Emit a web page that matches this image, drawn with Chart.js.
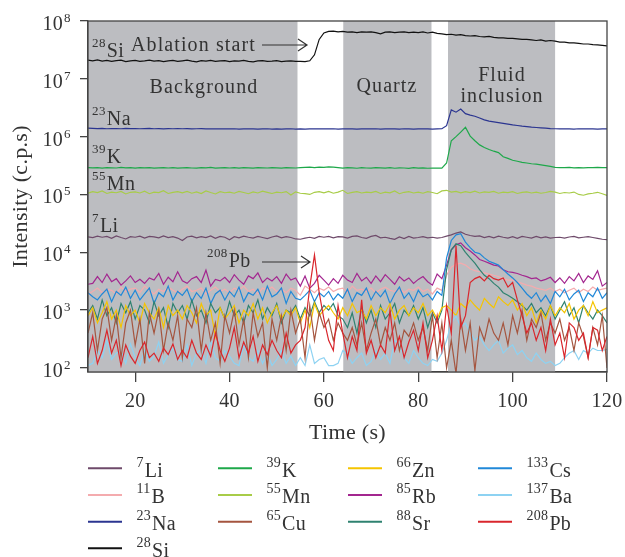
<!DOCTYPE html>
<html><head><meta charset="utf-8">
<script src="https://cdn.jsdelivr.net/npm/chart.js@4.4.1/dist/chart.umd.min.js"></script>
<style>html,body{margin:0;padding:0;background:#fff}canvas{display:block}</style>
</head><body>
<canvas id="c" width="625" height="557" style="width:625px;height:557px"></canvas>
<script>
// ---- time grid (s) ----
const timeS = Array.from({length: 111}, (_, i) => 10 + i);

// ---- tick labels ----
const xTickValues = [20, 40, 60, 80, 100, 120];
const yTickValues = [1e2, 1e3, 1e4, 1e5, 1e6, 1e7, 1e8];
const yTickExponents = ['2', '3', '4', '5', '6', '7', '8'];

// ---- shaded regions ----
const bandNames = ['Background', 'Quartz', 'Fluid inclusion'];
const bandStart = [10, 64.1, 86.3];
const bandEnd = [54.4, 82.8, 109.0];

// ---- series (c.p.s), one value per second from 10 s to 120 s ----
const liData = [
 18500,18000,19000,18200,18800,17500,19200,18000,17000,18600,
 18200,19000,17600,18800,18400,17800,19200,18000,18600,17600,
 16000,18400,19000,17800,18600,18000,19200,17400,18800,18200,
 16500,18600,17800,19000,18200,17600,18800,18000,17200,18400,
 19200,17800,18600,18000,17000,16800,17600,18200,17400,18800,
 18200,18800,17800,18600,18400,17600,18800,19200,18000,17400,
 18800,19600,17800,18200,17400,16800,18400,17200,18800,17600,
 18000,18600,17800,18200,17600,18000,19000,20000,21500,22500,
 20500,19500,18800,19200,18000,18800,17800,19000,18200,17600,
 18600,17400,18800,18200,17600,18800,17800,18400,17600,18000,
 18200,17600,18400,18800,17800,18200,18600,18000,17400,16800,
 16500];
const bData = [
 1900,2100,2400,2000,2300,2200,1900,2500,2100,2300,
 2400,2000,2600,2200,1900,2300,2100,2500,2200,2000,
 2300,2600,2100,2200,2400,1900,2200,2500,2100,2300,
 2000,2400,2200,2600,2100,2300,1900,2400,2200,2500,
 2100,2300,2000,2400,2200,1800,2600,2300,2000,2400,
 2200,2500,2100,2300,2400,2000,2600,2200,2300,2100,
 2400,2000,2300,2500,2200,2100,2400,2000,2300,2200,
 2500,2100,2300,1900,2400,2200,4000,5500,6200,6500,
 6000,5200,4800,4600,4400,4200,4000,3800,3500,3300,
 3300,3100,2900,2700,2600,2400,2300,2200,2400,2100,
 2300,2000,2200,2400,2000,2300,2100,2500,2200,2300,
 2400];
const naData = [
 1.40e6,1.39e6,1.38e6,1.39e6,1.37e6,1.38e6,1.38e6,1.37e6,1.39e6,1.38e6,
 1.38e6,1.37e6,1.38e6,1.39e6,1.37e6,1.38e6,1.36e6,1.38e6,1.37e6,1.38e6,
 1.37e6,1.38e6,1.36e6,1.37e6,1.38e6,1.36e6,1.37e6,1.36e6,1.37e6,1.36e6,
 1.36e6,1.37e6,1.35e6,1.36e6,1.37e6,1.36e6,1.35e6,1.36e6,1.37e6,1.35e6,
 1.36e6,1.35e6,1.36e6,1.37e6,1.35e6,1.36e6,1.35e6,1.36e6,1.37e6,1.36e6,
 1.37e6,1.36e6,1.37e6,1.35e6,1.36e6,1.37e6,1.36e6,1.35e6,1.36e6,1.37e6,
 1.36e6,1.37e6,1.35e6,1.36e6,1.37e6,1.36e6,1.35e6,1.37e6,1.36e6,1.35e6,
 1.36e6,1.37e6,1.36e6,1.35e6,1.36e6,1.37e6,1.55e6,2.90e6,2.65e6,3.00e6,
 2.50e6,2.35e6,2.25e6,2.10e6,1.95e6,1.85e6,1.80e6,1.75e6,1.70e6,1.65e6,
 1.60e6,1.56e6,1.52e6,1.49e6,1.46e6,1.44e6,1.42e6,1.40e6,1.38e6,1.37e6,
 1.36e6,1.37e6,1.36e6,1.35e6,1.37e6,1.36e6,1.37e6,1.36e6,1.35e6,1.36e6,
 1.36e6];
const siData = [
 2.10e7,2.05e7,2.12e7,2.02e7,2.08e7,2.00e7,2.06e7,2.10e7,1.98e7,2.05e7,
 2.08e7,2.00e7,2.04e7,2.10e7,2.02e7,2.06e7,1.98e7,2.04e7,2.08e7,2.00e7,
 2.05e7,2.10e7,2.02e7,1.97e7,2.06e7,2.02e7,2.08e7,2.00e7,2.04e7,2.06e7,
 1.98e7,2.05e7,2.02e7,2.08e7,2.00e7,1.96e7,2.04e7,2.06e7,2.00e7,2.02e7,
 2.06e7,1.98e7,2.02e7,2.05e7,2.00e7,2.01e7,1.99e7,2.05e7,2.60e7,4.80e7,
 6.20e7,6.60e7,6.70e7,6.50e7,6.60e7,6.40e7,6.50e7,6.30e7,6.50e7,6.40e7,
 6.50e7,6.30e7,6.00e7,6.40e7,6.50e7,6.30e7,6.40e7,6.50e7,6.30e7,6.40e7,
 6.30e7,6.50e7,6.20e7,6.40e7,6.10e7,6.00e7,5.80e7,5.90e7,5.70e7,5.80e7,
 5.60e7,5.50e7,5.60e7,5.40e7,5.30e7,5.40e7,5.20e7,5.10e7,5.10e7,5.00e7,
 5.00e7,4.90e7,4.80e7,4.80e7,4.70e7,4.60e7,4.70e7,4.50e7,4.60e7,4.50e7,
 4.30e7,4.30e7,4.20e7,4.20e7,4.10e7,4.00e7,4.00e7,3.90e7,3.85e7,3.80e7,
 3.70e7];
const kData = [
 2.92e5,2.88e5,2.90e5,2.86e5,2.91e5,2.89e5,2.87e5,2.93e5,2.88e5,2.90e5,
 2.86e5,2.90e5,2.88e5,2.92e5,2.85e5,2.89e5,2.91e5,2.87e5,2.90e5,2.86e5,
 2.89e5,2.92e5,2.87e5,2.85e5,2.90e5,2.88e5,2.93e5,2.86e5,2.89e5,2.91e5,
 2.87e5,2.90e5,2.86e5,2.92e5,2.88e5,2.85e5,2.90e5,2.89e5,2.87e5,2.91e5,
 2.88e5,2.86e5,2.92e5,2.89e5,2.87e5,2.90e5,2.94e5,2.96e5,2.92e5,2.98e5,
 2.95e5,3.00e5,2.96e5,2.92e5,2.86e5,2.90e5,2.88e5,2.84e5,2.90e5,2.87e5,
 2.85e5,2.90e5,2.88e5,2.86e5,2.92e5,2.84e5,2.89e5,2.87e5,2.83e5,2.90e5,
 2.86e5,2.88e5,2.84e5,2.87e5,2.85e5,2.86e5,3.50e5,8.50e5,1.00e6,1.20e6,
 1.45e6,1.02e6,8.50e5,7.20e5,6.50e5,6.00e5,5.60e5,5.30e5,4.50e5,4.20e5,
 3.90e5,3.75e5,3.60e5,3.50e5,3.40e5,3.35e5,3.25e5,3.15e5,3.05e5,2.95e5,
 2.92e5,2.90e5,2.93e5,2.89e5,2.91e5,2.88e5,2.92e5,2.90e5,2.93e5,2.91e5,
 2.92e5];
const mnData = [
 105000,112000,108000,115000,104000,110000,107000,113000,102000,109000,
 111000,106000,114000,103000,110000,108000,116000,104000,109000,112000,
 107000,113000,105000,111000,104000,115000,108000,102000,112000,107000,
 110000,105000,113000,108000,103000,111000,106000,114000,109000,104000,
 110000,107000,112000,98000,111000,105000,103000,100000,109000,112000,
 107000,113000,105000,110000,118000,104000,109000,112000,106000,110000,
 108000,113000,104000,110000,107000,115000,103000,109000,112000,106000,
 110000,105000,112000,108000,103000,115000,118000,110000,113000,107000,
 112000,108000,114000,106000,111000,109000,113000,105000,110000,108000,
 112000,104000,109000,111000,106000,110000,105000,108000,113000,110000,
 104000,108000,106000,110000,100000,97000,102000,105000,109000,103000,
 96000];
const cuData = [
 400,900,200,700,1100,300,800,150,600,1000,
 250,700,120,900,400,1000,200,600,300,800,
 150,700,500,1100,200,900,300,600,120,800,
 400,1000,250,700,150,900,350,600,100,700,
 300,800,200,1000,400,700,150,1200,300,900,
 500,700,300,600,400,300,500,250,600,200,
 400,700,250,500,300,600,200,450,350,600,
 300,500,200,800,150,600,100,300,80,700,
 200,600,90,500,300,700,400,300,600,250,
 800,400,1000,300,700,500,900,300,600,400,
 700,300,500,200,600,350,150,500,250,800,
 100];
const znData = [
 800,1100,600,900,1400,700,1000,500,1200,800,
 1000,600,1300,900,700,1100,500,1200,800,1000,
 700,1200,900,600,1300,800,1000,350,1100,700,
 900,1200,600,1000,800,1300,700,1100,600,900,
 1200,700,1000,800,1100,600,1000,500,1300,800,
 1000,1200,900,700,1100,800,1300,900,1000,700,
 1200,800,1100,900,1300,700,1000,1200,800,1100,
 900,1300,800,1000,700,1100,1200,1000,800,1300,
 1100,1500,1200,1000,1600,1300,1100,1700,1400,1200,
 1500,1000,1300,800,1100,600,1000,700,1200,800,
 1100,900,1300,700,1000,1200,800,1400,900,1000,
 1100];
const rbData = [
 2800,2900,3800,3000,4200,3100,3500,2700,3200,3900,
 3000,3400,2900,3600,3300,4300,2800,3700,3100,4600,
 3200,2900,3500,3800,3000,4900,2600,3400,3200,3700,
 3000,4100,3300,2800,3900,3500,4400,3000,3600,3200,
 3800,2900,4200,3300,3600,2600,3900,2400,2900,4000,
 3300,2700,3500,2900,4000,3300,3000,4300,3200,3700,
 2900,3900,3100,4100,3400,2800,3800,3200,3600,2900,
 3400,3800,3100,2700,4200,3500,6000,11000,13500,14500,
 12000,10500,9000,7500,7000,6500,6000,5800,5000,4600,
 4500,4300,4000,3800,3500,3600,3200,3400,3700,3000,
 3600,2900,3800,3200,4300,3000,3900,3400,4800,2600,
 3000];
const srData = [
 900,1200,700,1500,800,1100,600,1300,900,1400,
 700,1200,1000,600,1400,800,1100,500,1300,900,
 1200,700,1500,800,1000,600,1300,900,1100,700,
 1400,800,1000,600,1200,900,1500,700,1100,800,
 1300,600,1000,900,1200,700,1100,800,1400,900,
 1200,1000,1300,800,700,500,900,400,1100,600,
 1000,500,1200,700,900,1300,600,1000,800,1200,
 700,1100,500,900,600,1000,5000,11000,14000,13000,
 10000,8000,6500,5000,4000,3500,2900,2500,2000,1800,
 1600,1400,1200,1000,1300,900,1100,800,1200,700,
 1000,1400,800,1100,600,1200,900,700,1000,800,
 600];
const csData = [
 2000,1700,1500,1900,2300,1400,2100,1800,2500,1600,
 2200,1500,1900,2400,1300,2000,1700,2600,1500,2100,
 1800,2300,1400,2000,1600,2400,1300,1900,2200,1500,
 2100,1700,2500,1400,2000,1800,2300,1500,2600,1700,
 1900,2400,1300,2100,1600,1500,1800,2200,1400,2000,
 1700,2100,1500,1900,1600,2300,1400,2000,1800,2400,
 1500,2100,1700,2200,1300,1900,2500,1600,2000,1400,
 2200,1700,1900,1500,2100,1800,8000,16000,20000,21000,
 15000,12000,10000,9500,8000,7000,6500,6000,5000,4200,
 3600,3000,2400,1900,1600,2000,1400,1800,1300,2100,
 1700,2300,1500,1900,2200,1400,2000,1700,2400,1600,
 2000];
const baData = [
 110,120,200,150,300,140,180,200,120,260,
 150,110,200,130,160,280,120,170,220,140,
 130,250,110,180,210,120,300,150,130,200,
 160,120,110,250,150,130,200,120,180,110,
 140,200,120,160,110,150,110,250,120,140,
 150,110,110,120,200,170,120,150,180,110,
 130,200,140,180,120,300,250,150,120,200,
 150,120,110,140,130,180,300,600,800,500,
 600,400,300,350,250,200,250,300,180,220,
 250,170,200,150,130,180,140,120,130,110,
 120,150,180,200,140,200,180,220,200,200,
 210];
const pbData = [
 150,350,120,200,450,180,300,110,250,160,
 120,200,280,150,180,130,220,170,260,140,
 200,150,300,180,140,250,160,400,200,130,
 220,500,150,280,180,350,130,250,170,300,
 200,150,400,180,250,300,500,2500,9000,2000,
 700,300,200,1200,400,150,350,200,1500,180,
 300,150,250,180,1000,200,350,150,280,450,
 200,600,150,300,800,200,1200,400,13000,500,
 800,3000,3500,3800,3200,4000,3500,3300,3600,2500,
 3000,1500,800,400,600,300,500,200,700,250,
 400,150,600,500,300,400,150,500,450,200,
 350];

// ---- series descriptions ----
const seriesMass = ['7','11','23','28','39','55','65','66','85','88','133','137','208'];
const seriesSym  = ['Li','B','Na','Si','K','Mn','Cu','Zn','Rb','Sr','Cs','Ba','Pb'];
const seriesData = [liData,bData,naData,siData,kData,mnData,cuData,znData,rbData,srData,csData,baData,pbData];
const seriesColor = ['#6e4a6a','#f4abae','#2b3590','#111111','#1ea84a','#a8cc48','#a5553f','#f5c400','#a3268f','#2f8270','#2088d8','#8dd2f2','#d9262c'];
const seriesOrder = [20,6,21,22,23,24,1,3,7,4,5,2,0];
const legendColumns = [[0,1,2,3],[4,5,6],[7,8,9],[10,11,12]];

const FONT = '"Liberation Serif", "Times New Roman", serif';
const TXT = '#333333';

function supText(ctx, sup, main, x, base, mainSize, supSize, raise) {
  ctx.textAlign = 'left';
  ctx.textBaseline = 'alphabetic';
  ctx.font = supSize + 'px ' + FONT;
  ctx.fillText(sup, x, base - raise);
  const w = ctx.measureText(sup).width;
  ctx.font = mainSize + 'px ' + FONT;
  ctx.fillText(main, x + w + 1, base);
}
function arrow(ctx, x1, x2, y) {
  ctx.beginPath();
  ctx.moveTo(x1, y); ctx.lineTo(x2, y);
  ctx.moveTo(x2 - 9, y - 6); ctx.lineTo(x2, y); ctx.lineTo(x2 - 9, y + 6);
  ctx.strokeStyle = TXT; ctx.lineWidth = 1.2; ctx.stroke();
}

const overlay = {
  id: 'overlay',
  beforeDatasetsDraw(chart) {
    const {ctx, chartArea: a, scales: {x}} = chart;
    ctx.save();
    ctx.fillStyle = '#bcbdc1';
    for (let i = 0; i < bandStart.length; i++) {
      const x0 = x.getPixelForValue(bandStart[i]);
      const x1 = x.getPixelForValue(bandEnd[i]);
      ctx.fillRect(x0, a.top, x1 - x0, a.bottom - a.top);
    }
    ctx.restore();
  },
  afterDatasetsDraw(chart) {
    const {ctx, chartArea: a} = chart;
    ctx.save();
    ctx.strokeStyle = '#444'; ctx.lineWidth = 1.3;
    ctx.strokeRect(a.left, a.top, a.right - a.left, a.bottom - a.top);
    ctx.fillStyle = TXT;
    // isotope labels
    ctx.letterSpacing = '0.4px';
    supText(ctx, '28', 'Si', 92, 56.5, 20, 13, 10);
    supText(ctx, '23', 'Na', 92, 125, 20, 13, 10);
    supText(ctx, '39', 'K', 92, 163, 20, 13, 10);
    supText(ctx, '55', 'Mn', 92, 190, 20, 13, 10);
    supText(ctx, '7', 'Li', 92, 231.5, 20, 13, 10);
    supText(ctx, '208', 'Pb', 207, 266.5, 20, 13, 10);
    arrow(ctx, 262, 310, 262);
    // word labels
    ctx.letterSpacing = '1.1px';
    ctx.font = '20px ' + FONT; ctx.textAlign = 'left';
    ctx.fillText('Ablation start', 131, 50.5);
    arrow(ctx, 262, 307, 45);
    ctx.textAlign = 'center';
    ctx.fillText(bandNames[0], 204, 93);
    ctx.fillText(bandNames[1], 387, 92);
    ctx.fillText('Fluid', 502, 81);
    ctx.fillText('inclusion', 502, 102);
    ctx.restore();
  },
  afterDraw(chart) {
    const {ctx, scales: {x, y}} = chart;
    ctx.save();
    ctx.fillStyle = TXT;
    ctx.letterSpacing = '0.3px';
    // y tick labels
    for (let i = 0; i < yTickValues.length; i++) {
      const py = y.getPixelForValue(yTickValues[i]);
      ctx.font = '20px ' + FONT; ctx.textAlign = 'right'; ctx.textBaseline = 'alphabetic';
      ctx.fillText('10', 63, py + 9);
      ctx.font = '13px ' + FONT; ctx.textAlign = 'left';
      ctx.fillText(yTickExponents[i], 64, py + 1);
    }
    // x tick labels
    ctx.font = '20px ' + FONT; ctx.textAlign = 'center'; ctx.textBaseline = 'alphabetic';
    for (const v of xTickValues) ctx.fillText(String(v), x.getPixelForValue(v), 407);
    // axis titles
    ctx.font = '22px ' + FONT;
    ctx.fillText('Time (s)', (chart.chartArea.left + chart.chartArea.right) / 2, 439);
    ctx.save();
    ctx.translate(27, (chart.chartArea.top + chart.chartArea.bottom) / 2);
    ctx.rotate(-Math.PI / 2);
    ctx.fillText('Intensity (c.p.s)', 0, 0);
    ctx.restore();
    // legend
    const colX = [88, 218, 348, 478];
    for (let c = 0; c < legendColumns.length; c++) {
      legendColumns[c].forEach((si, r) => {
        const ly = 468.3 + r * 26.67;
        ctx.beginPath();
        ctx.moveTo(colX[c], ly); ctx.lineTo(colX[c] + 34, ly);
        ctx.strokeStyle = seriesColor[si]; ctx.lineWidth = 2; ctx.stroke();
        ctx.fillStyle = TXT;
        supText(ctx, seriesMass[si], seriesSym[si], colX[c] + 48.5, ly + 8.5, 20, 14, 10);
      });
    }
    ctx.restore();
  }
};

const datasets = seriesData.map((d, k) => ({
  label: seriesMass[k] + seriesSym[k],
  data: timeS.map((t, i) => ({x: t, y: d[i]})),
  borderColor: seriesColor[k],
  borderWidth: 1.2,
  pointRadius: 0,
  fill: false,
  tension: 0,
  order: seriesOrder[k]
}));

new Chart(document.getElementById('c'), {
  type: 'line',
  data: {datasets},
  plugins: [overlay],
  options: {
    responsive: false,
    devicePixelRatio: 1,
    animation: false,
    events: [],
    layout: {padding: {top: 21, right: 18, left: 0, bottom: 0}},
    plugins: {legend: {display: false}, tooltip: {enabled: false}},
    scales: {
      x: {
        type: 'linear', min: 10, max: 120,
        afterBuildTicks: s => { s.ticks = xTickValues.map(v => ({value: v})); },
        afterFit: s => { s.height = 557 - 372; },
        ticks: {display: false},
        grid: {display: true, drawOnChartArea: false, drawTicks: true, tickLength: 10, color: '#444', lineWidth: 1.3},
        border: {display: true, color: '#444', width: 1.3}
      },
      y: {
        type: 'logarithmic', min: 85, max: 1e8,
        afterBuildTicks: s => { s.ticks = yTickValues.map(v => ({value: v})); },
        afterFit: s => { s.width = 88; },
        ticks: {display: false},
        grid: {display: true, drawOnChartArea: false, drawTicks: true, tickLength: 8, color: '#444', lineWidth: 1.3},
        border: {display: true, color: '#444', width: 1.3}
      }
    }
  }
});
</script></body></html>
